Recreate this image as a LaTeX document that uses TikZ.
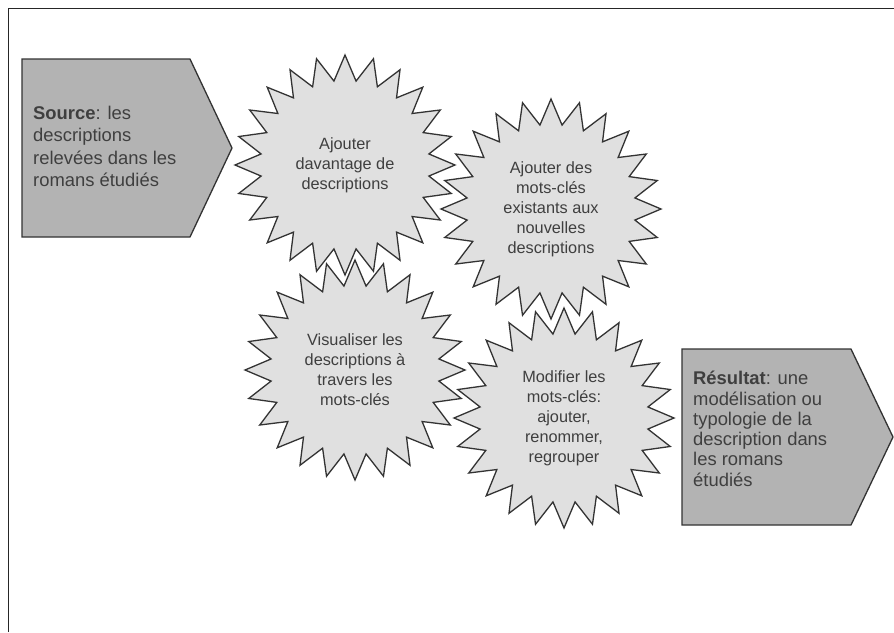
\documentclass[tikz,border=0pt]{standalone}
\usepackage{fontspec}
\setmainfont{Liberation Sans}
\setsansfont{Liberation Sans}
\RequirePackage{xcolor}
\tikzset{every picture/.style={/utils/exec={\sffamily}}}
\usetikzlibrary{calc}
\usetikzlibrary{positioning}
\usetikzlibrary{shapes.geometric}

\definecolor{txtgray}{HTML}{3F3F3F}
\definecolor{linegray}{HTML}{333333}
\definecolor{boxgray}{HTML}{B3B3B3}
\definecolor{stargray}{HTML}{E0E0E0}

\begin{document}
\begin{tikzpicture}[x=1pt, y=-1pt,
  burst/.style={draw=linegray, fill=stargray, line width=1.3pt, star, star points=24, star point ratio=1.3, minimum size=220pt, inner sep=0pt, align=center, text=txtgray, font=\fontsize{16.3}{20}\selectfont},
  arrowbox/.style={draw=linegray, fill=boxgray, line width=1.3pt, line join=miter},
  boxtext/.style={anchor=north west, align=left, inner sep=0pt, text=txtgray, font=\fontsize{18.4}{22.3}\selectfont}]
  \useasboundingbox (0,0) rectangle (894,632);

  \draw [black!85, line width=1pt] (8,632) |- (894,8);

  % entree et sortie
  \draw [arrowbox] (22,59) -- (190,59) -- (232,148) -- (190,237) -- (22,237) -- cycle;
  \node [boxtext] (source) at (33,106) {\textbf{Source}: les\\descriptions\\relevées dans les\\romans étudiés};

  \draw [arrowbox] (682,349) -- (851,349) -- (893,437) -- (851,525) -- (682,525) -- cycle;
  \node [boxtext, font=\fontsize{18.4}{20.3}\selectfont] (result) at (693,371) {\textbf{Résultat}: une\\modélisation ou\\typologie de la\\description dans\\les romans\\étudiés};

  % les quatre etapes
  \node [burst] (ajout) at (345,165) {Ajouter\\davantage de\\descriptions};
  \node [burst] (motscles) at (551,209) {Ajouter des\\mots-clés\\existants aux\\nouvelles\\descriptions};
  \node [burst] (visu) at (355,370) {Visualiser les\\descriptions à\\travers les\\mots-clés};
  \node [burst] (modif) at (564,418) {Modifier les\\mots-clés:\\ajouter,\\renommer,\\regrouper};

\end{tikzpicture}
\end{document}
